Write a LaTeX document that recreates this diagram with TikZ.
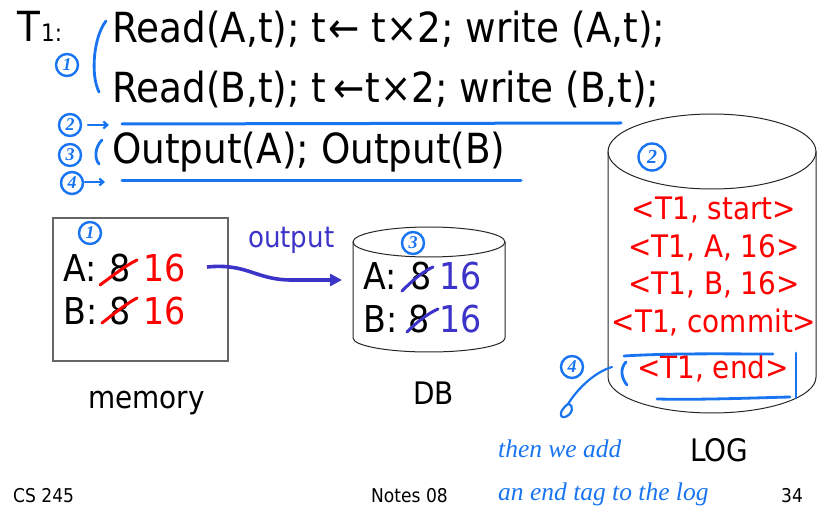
\documentclass[tikz,border=0pt]{standalone}
\usepackage{fontspec}
\setmainfont{DejaVu Sans}[FakeStretch=0.9]
\newfontfamily\handfont{Liberation Serif}
\usetikzlibrary{arrows.meta}
\definecolor{ink}{RGB}{24,116,240}
\definecolor{pen}{RGB}{60,52,200}
\definecolor{logred}{RGB}{255,0,0}
\begin{document}
\begin{tikzpicture}[x=1pt,y=-1pt,
  txt/.style={inner sep=0pt, anchor=base west},
  code/.style={txt, font=\fontsize{41.5}{41.5}\selectfont},
  cell/.style={txt, font=\fontsize{37}{37}\selectfont},
  caption/.style={txt, font=\fontsize{31}{31}\selectfont},
  logline/.style={inner sep=0pt, anchor=base, text=logred, font=\fontsize{31}{31}\selectfont},
  foot/.style={txt, font=\fontsize{19}{19}\selectfont},
  hand/.style={draw=ink, line width=2.8pt, line cap=round, line join=round},
  num/.style={circle, draw=ink, line width=2.4pt, text=ink, inner sep=0pt,
    minimum size=22pt, font=\handfont\itshape\bfseries\fontsize{18}{18}\selectfont},
  cyl/.style={draw=black!85, line width=1pt},
  strike/.style={line width=3pt, line cap=round},
  note/.style={txt, text=ink, font=\handfont\itshape\fontsize{25.5}{25.5}\selectfont},
]
\useasboundingbox (0,0) rectangle (817,529);

% ---- transaction T1 ----
\node[code] (tT) at (17,42) {T};
\node[txt, font=\fontsize{24}{24}\selectfont] (tone) at (41,42) {1:};
\node[code] (l1) at (112,43) {Read(A,t); t\kern2pt← t×2; write (A,t);};
\node[code] (l2) at (112,103) {Read(B,t); t\,←\kern1pt t×2; write (B,t);};
\node[code] (l3) at (112,164) {Output(A); Output(B)};

% steps marked by hand
\node[num] (s1) at (67,65) {1};
\node[num] (s2) at (70,125) {2};
\node[num] (s3) at (70,155) {3};
\node[num] (s4) at (72,183) {4};
\coordinate (b1t) at (106,21);
\coordinate (b1b) at (99,92);
\draw[hand] (b1t) .. controls (94,36) and (90,74) .. (b1b);
\coordinate (b3t) at (102,140);
\coordinate (b3b) at (99,164);
\draw[hand] (b3t) .. controls (95,147) and (94,158) .. (b3b);
\coordinate (a2s) at (88,125);
\coordinate (a2e) at (109,125);
\draw[hand, line width=2.2pt, -{Straight Barb[length=4pt,width=7pt]}] (a2s) -- (a2e);
\coordinate (a4s) at (85,182);
\coordinate (a4e) at (105,182);
\draw[hand, line width=2.2pt, -{Straight Barb[length=4pt,width=7pt]}] (a4s) -- (a4e);
\coordinate (u2s) at (122,124);
\coordinate (u2e) at (621,123);
\draw[hand, line width=3pt] (u2s) -- (u2e);
\coordinate (u4s) at (122,181);
\coordinate (u4e) at (521,181);
\draw[hand, line width=3pt] (u4s) -- (u4e);

% ---- memory ----
\node[draw=black!60, line width=1.3pt, minimum width=175pt, minimum height=143pt, inner sep=0pt]
  (mem) at (140.5,289.5) {};
\node[num] (m1) at (90,233) {1};
\node[cell] (mA) at (63,282) {A:};
\node[cell] (mA8) at (109,282) {8};
\node[cell, text=logred] (mA16) at (143,282) {16};
\node[cell] (mB) at (63,325) {B:};
\node[cell] (mB8) at (109,325) {8};
\node[cell, text=logred] (mB16) at (143,325) {16};
\draw[strike, logred] (100,285) .. controls (115,274) and (125,266) .. (137,260);
\draw[strike, logred] (102,323) .. controls (116,312) and (126,304) .. (137,298);
\node[caption] (memlbl) at (88,408) {memory};

% ---- output arrow ----
\node[txt, text=pen, font=\fontsize{29}{29}\selectfont] (outlbl) at (248,248) {output};
\coordinate (outA) at (207,267);
\coordinate (inDB) at (342,280);
\draw[pen, line width=3.6pt, -{Triangle[length=12pt,width=12pt]}]
  (outA) .. controls (248,263) and (255,280) .. (292,280) -- (inDB);

% ---- DB cylinder ----
\draw[cyl] (429,242) ellipse [x radius=76, y radius=15];
\draw[cyl] (353,242) -- (353,338) arc [start angle=180, end angle=0, x radius=76, y radius=14] -- (505,242);
\node[num] (d3) at (413,243) {3};
\node[cell] (dA) at (363,290) {A:};
\node[cell] (dA8) at (410,290) {8};
\node[cell, text=pen] (dA16) at (439,290) {16};
\node[cell] (dB) at (363,333) {B:};
\node[cell] (dB8) at (408,333) {8};
\node[cell, text=pen] (dB16) at (439,333) {16};
\draw[strike, pen] (402,291) .. controls (412,281) and (422,272) .. (433,267);
\draw[strike, pen] (407,332) .. controls (417,322) and (427,314) .. (438,309);
\node[caption] (dblbl) at (413,405) {DB};

% ---- LOG cylinder ----
\draw[cyl] (712,151.5) ellipse [x radius=104, y radius=37.5];
\draw[cyl] (608,151.5) -- (608,377) arc [start angle=180, end angle=0, x radius=104, y radius=36] -- (816,151.5);
\node[num, minimum size=27pt, font=\handfont\itshape\bfseries\fontsize{20}{20}\selectfont] (g2) at (652,157) {2};
\node[logline] (r1) at (714,220) {<T1, start>};
\node[logline] (r2) at (714,258) {<T1, A, 16>};
\node[logline] (r3) at (714,295) {<T1, B, 16>};
\node[logline] (r4) at (714,333) {<T1, commit>};
\node[logline] (r5) at (713,378) {<T1, end>};
\node[caption] (loglbl) at (690,461) {LOG};

% end record framed by hand
\draw[hand] (624,356) .. controls (670,353) and (730,354) .. (773,354);
\draw[hand] (796,353) -- (796,398);
\draw[hand] (657,399) .. controls (700,400) and (750,398) .. (790,397);
\draw[hand] (626,362) .. controls (620,368) and (621,378) .. (627,385);
\node[num] (g4) at (572,367) {4};
\coordinate (ptr) at (612,367);
\coordinate (tip) at (568,404);
\draw[hand, line width=2.2pt] (ptr) .. controls (595,372) and (578,388) .. (tip)
  .. controls (560,410) and (558,418) .. (565,417) .. controls (572,415) and (575,405) .. (tip);
\node[note] (note1) at (498,457) {then we add};
\node[note] (note2) at (498,500) {an end tag to the log};

% ---- footer ----
\node[foot] (f1) at (13,502) {CS 245};
\node[foot] (f2) at (371,502) {Notes 08};
\node[foot] (f3) at (781,502) {34};
\end{tikzpicture}
\end{document}
